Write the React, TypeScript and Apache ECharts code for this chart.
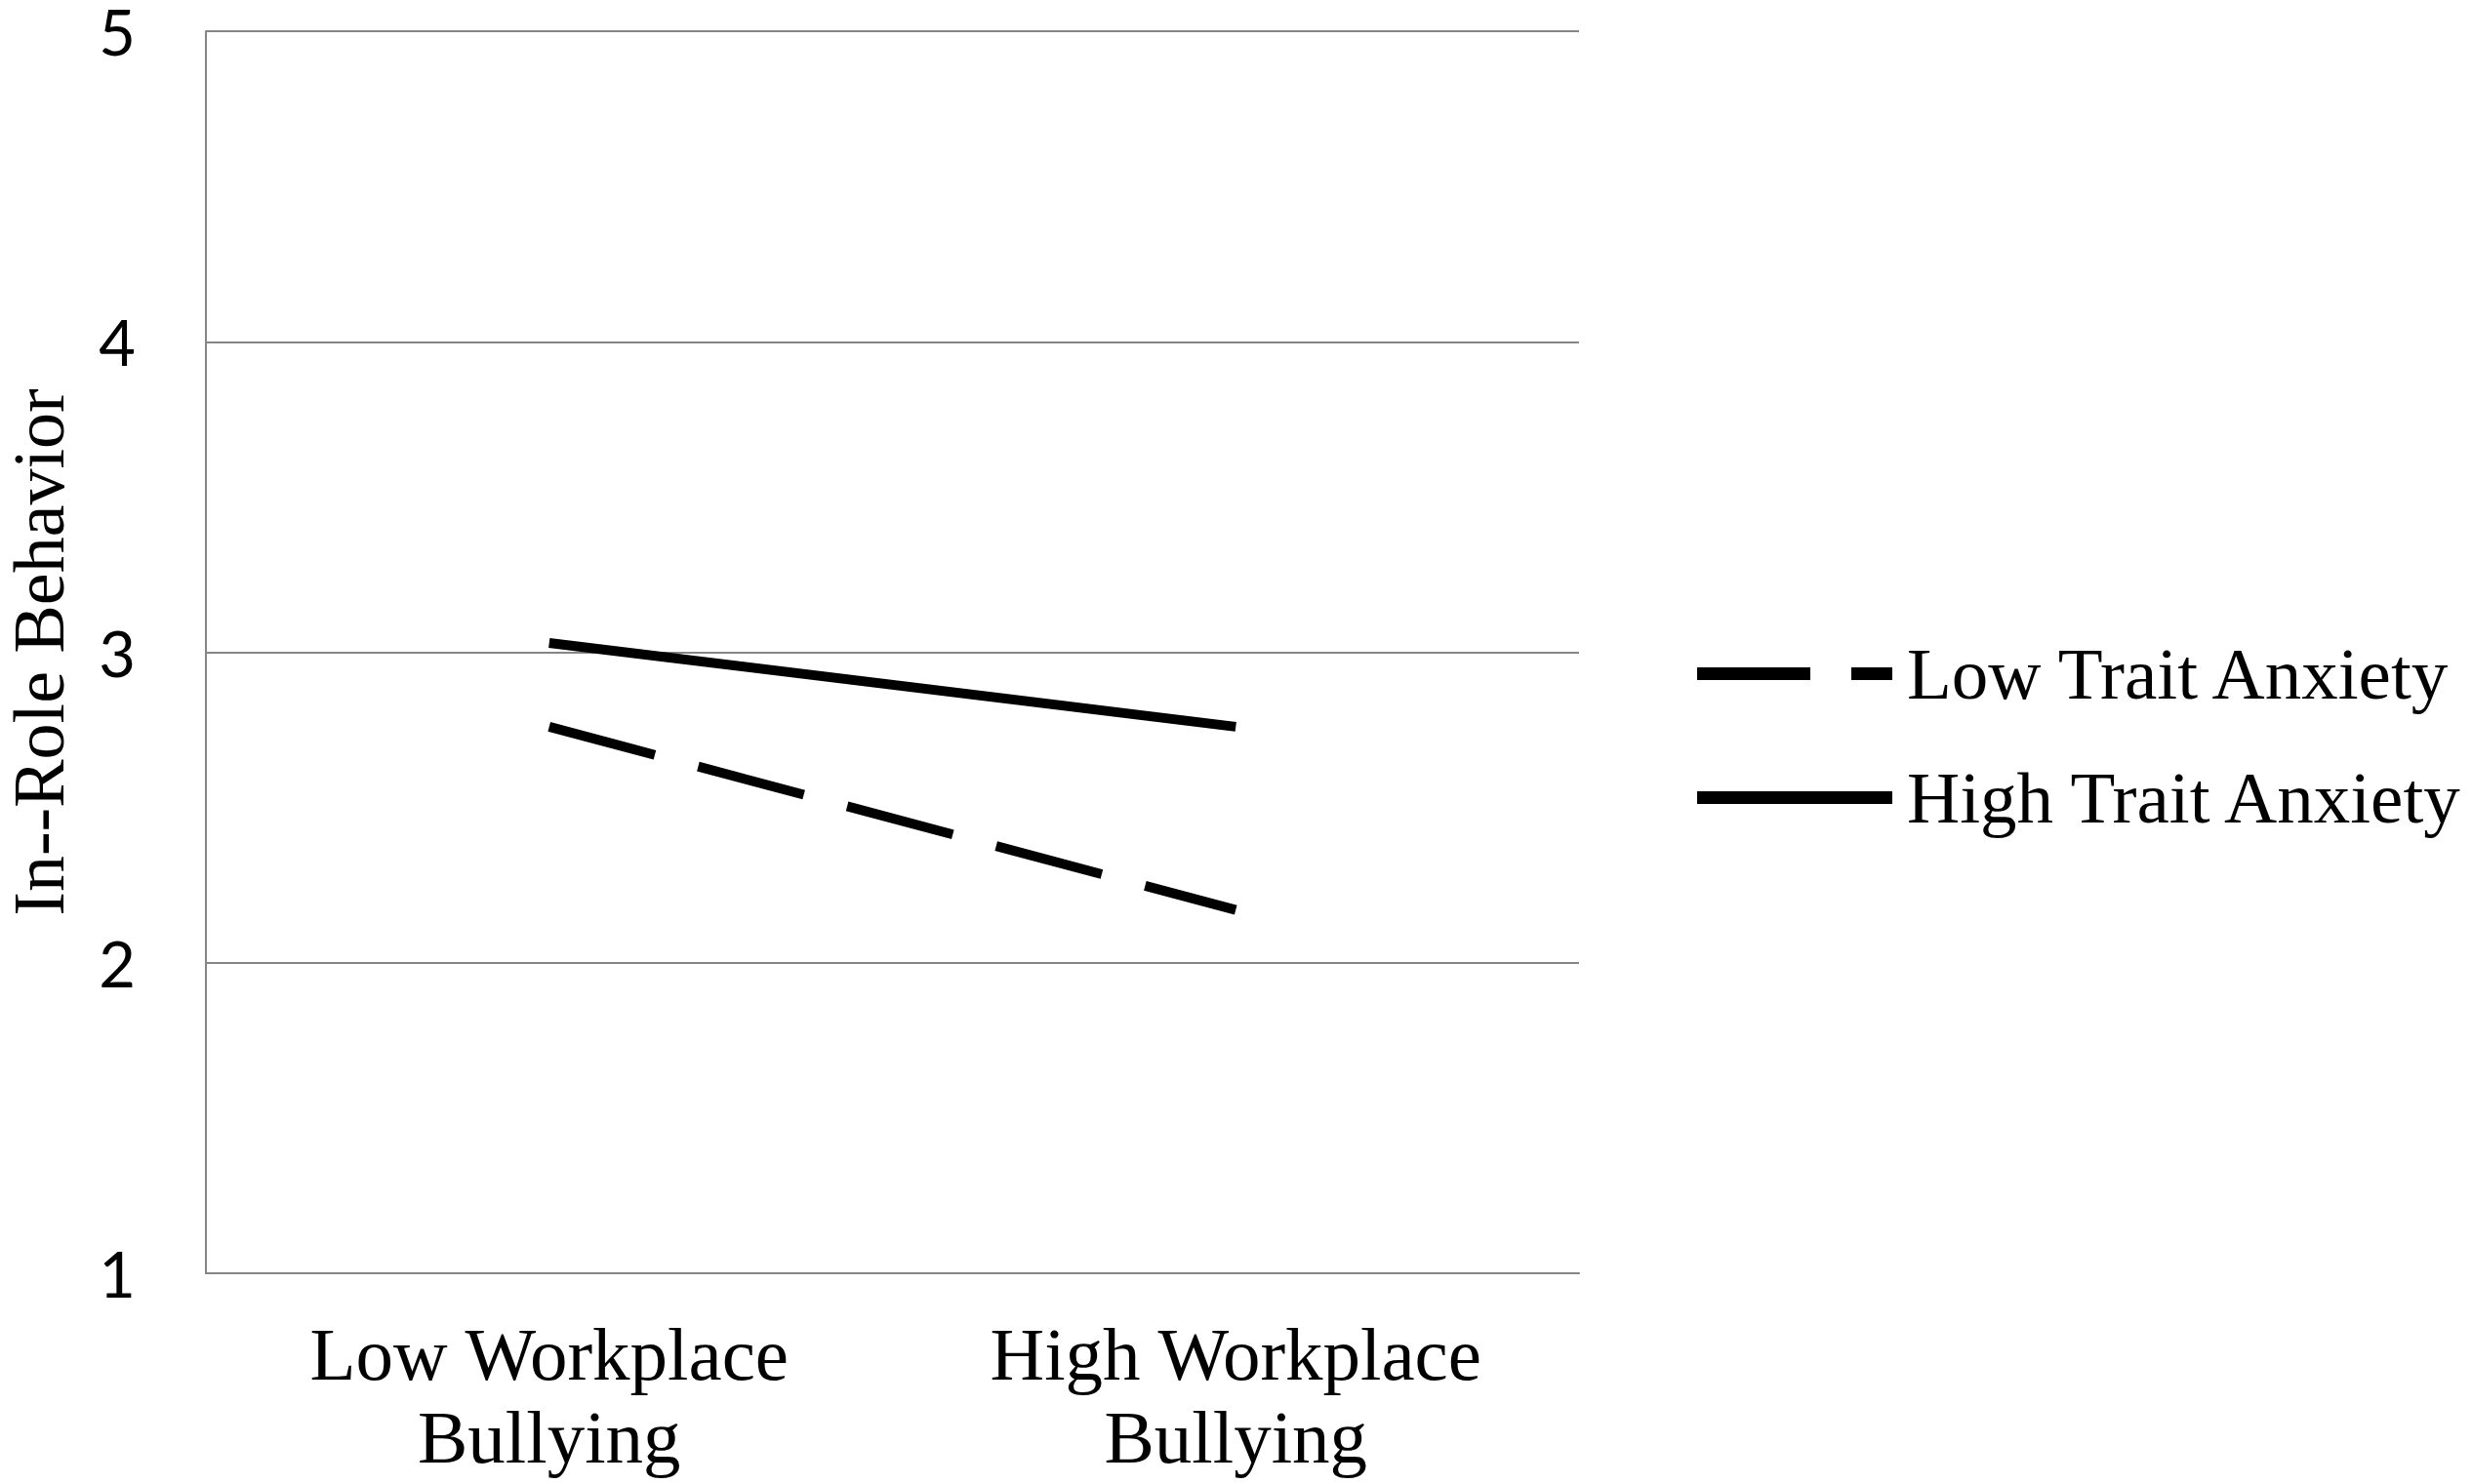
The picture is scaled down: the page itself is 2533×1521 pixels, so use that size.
import React, { useEffect, useRef } from "react";
import * as echarts from "echarts";

const categories = ["Low Workplace\nBullying", "High Workplace\nBullying"];
const lowTraitAnxiety = [2.76, 2.17];
const highTraitAnxiety = [3.03, 2.76];
const yTicks = { min: 1, max: 5, interval: 1 };
const legendNames = ["Low Trait Anxiety", "High Trait Anxiety"];

export default function App() {
  const ref = useRef<HTMLDivElement>(null);
  useEffect(() => {
    if (!ref.current) return;
    const chart = echarts.init(ref.current, undefined, { renderer: "svg" });
    const serif = "'Liberation Serif', 'Times New Roman', serif";
    chart.setOption({
      animation: false,
      backgroundColor: "#ffffff",
      grid: { left: 211, right: 915, top: 32, bottom: 216, containLabel: false, outerBoundsMode: "none" },
      legend: {
        orient: "vertical",
        left: 1734,
        top: 648,
        itemWidth: 200,
        itemHeight: 13,
        itemGap: 52,
        textStyle: { fontFamily: serif, fontSize: 75, color: "#000", padding: [0, 0, 0, 10] },
        data: [
          {
            name: legendNames[0],
            icon: "path://M0,0H116V13H0Z M158,0H200V13H158Z",
            itemStyle: { color: "#000" },
          },
          {
            name: legendNames[1],
            icon: "path://M0,0H200V13H0Z",
            itemStyle: { color: "#000" },
          },
        ],
      },
      xAxis: {
        type: "category",
        data: categories,
        boundaryGap: true,
        axisLine: { show: true, lineStyle: { color: "#868686", width: 2 } },
        axisTick: { show: false },
        axisLabel: {
          fontFamily: serif,
          fontSize: 77,
          lineHeight: 85,
          color: "#000",
          margin: 40,
          interval: 0,
        },
        splitLine: { show: false },
      },
      yAxis: {
        type: "value",
        min: yTicks.min,
        max: yTicks.max,
        interval: yTicks.interval,
        name: "In--Role Behavior",
        nameLocation: "middle",
        nameGap: 134,
        nameTextStyle: { fontFamily: serif, fontSize: 74, color: "#000", lineHeight: 74 },
        axisLine: { show: true, lineStyle: { color: "#868686", width: 2 } },
        axisTick: { show: false },
        axisLabel: {
          fontFamily: "Lato, 'Open Sans', sans-serif",
          fontSize: 65,
          lineHeight: 60,
          color: "#000",
          margin: 72,
        },
        splitLine: { show: true, lineStyle: { color: "#868686", width: 2 } },
      },
      series: [
        {
          name: legendNames[0],
          type: "line",
          data: lowTraitAnxiety,
          symbol: "none",
          lineStyle: { color: "#000", width: 10, type: [112, 46], cap: "butt" },
          itemStyle: { color: "#000" },
        },
        {
          name: legendNames[1],
          type: "line",
          data: highTraitAnxiety,
          symbol: "none",
          lineStyle: { color: "#000", width: 10, type: "solid" },
          itemStyle: { color: "#000" },
        },
      ],
    });
    return () => chart.dispose();
  }, []);
  return (
    <div
      ref={ref}
      style={{ position: "fixed", left: 0, top: 0, width: 2533, height: 1521, background: "#fff" }}
    />
  );
}
